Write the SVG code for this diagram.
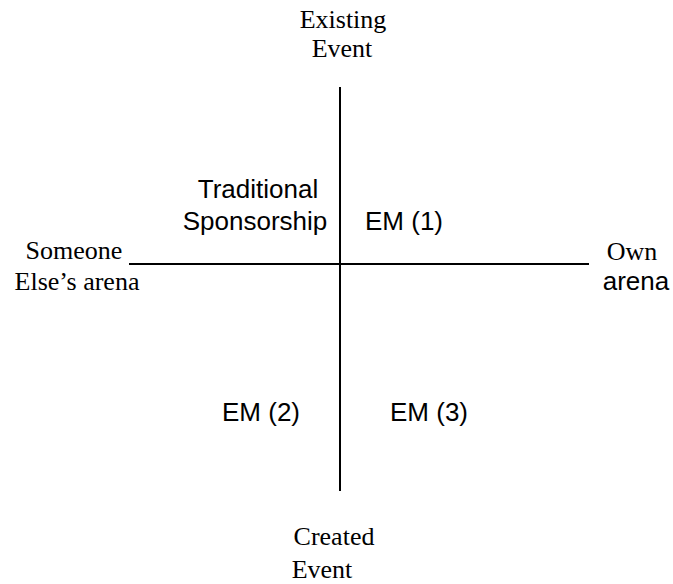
<svg xmlns="http://www.w3.org/2000/svg" width="673" height="584" viewBox="0 0 673 584">
<style>
.s{font-family:"Liberation Serif","Times New Roman",serif;font-size:26px;fill:#000}
.a{font-family:"Liberation Sans",Arial,sans-serif;font-size:26px;fill:#000}
.l{stroke:#000;stroke-width:2;fill:none}
</style>
<rect width="673" height="584" fill="#fff"/>
<g id="connectors">
<line class="l" x1="340" y1="87" x2="340" y2="491"/>
<line class="l" x1="129" y1="264" x2="589" y2="264"/>
</g>
<g id="top"><text class="s" x="343" y="28" text-anchor="middle">Existing</text><text class="s" x="342" y="57" text-anchor="middle">Event</text></g>
<g id="left"><text class="s" x="74" y="259" text-anchor="middle">Someone</text><text class="s" x="77" y="290" text-anchor="middle">Else’s arena</text></g>
<g id="right"><text class="s" x="632" y="260" text-anchor="middle">Own</text><text class="a" x="636" y="290" text-anchor="middle">arena</text></g>
<g id="q1"><text class="a" x="258" y="198" text-anchor="middle">Traditional</text><text class="a" x="255" y="230" text-anchor="middle">Sponsorship</text></g>
<g id="em1"><text class="a" x="404" y="230" text-anchor="middle">EM (1)</text></g>
<g id="em2"><text class="a" x="261" y="421" text-anchor="middle">EM (2)</text></g>
<g id="em3"><text class="a" x="429" y="421" text-anchor="middle">EM (3)</text></g>
<g id="bottom"><text class="s" x="334" y="545" text-anchor="middle">Created</text><text class="s" x="322" y="578" text-anchor="middle">Event</text></g>
</svg>
